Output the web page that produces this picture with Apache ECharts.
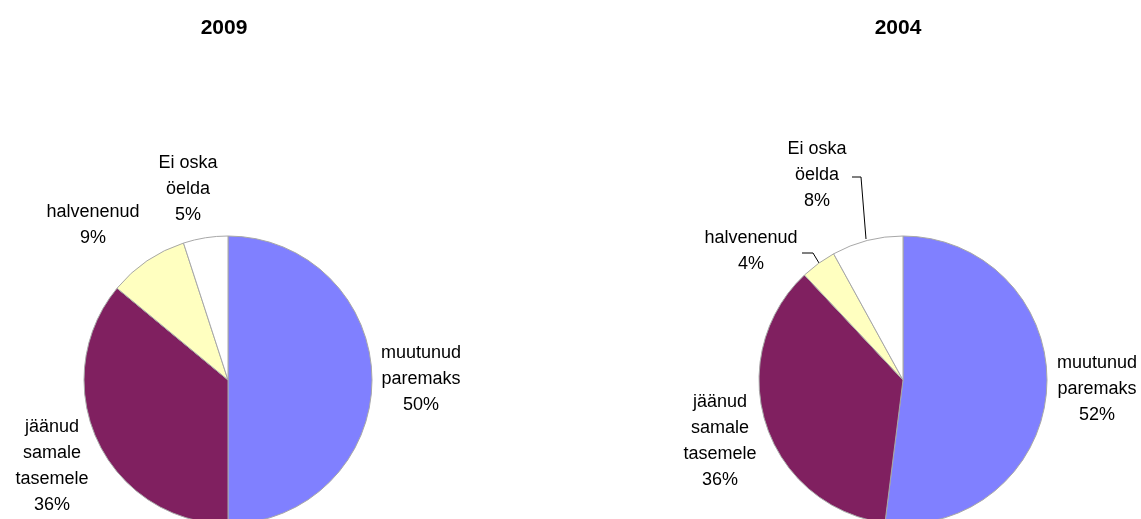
<!DOCTYPE html>
<html>
<head>
<meta charset="utf-8">
<script src="https://cdn.jsdelivr.net/npm/echarts@6/dist/echarts.min.js"></script>
<style>
  html, body { margin: 0; padding: 0; background: #fff; }
  #chart { width: 1141px; height: 519px; }
</style>
</head>
<body>
<div id="chart"></div>
<script>
// Answer categories (line breaks as printed in the slice labels)
const categories = ['muutunud\nparemaks', 'jäänud\nsamale\ntasemele', 'halvenenud', 'Ei oska\nöelda'];
// Shares in percent per survey year
const values2009 = [50, 36, 9, 5];
const values2004 = [52, 36, 4, 8];
const years = ['2009', '2004'];

const sliceColors = ['#8080FF', '#802060', '#FFFFC0', '#FFFFFF'];

// Label anchor points (centre of each text block) and optional leader lines
const labelPos = [
  [[421, 379], [52, 466], [93, 225], [188, 189]],
  [[1097, 389], [720, 441], [751, 251], [817, 175]]
];
const leaders = [
  [null, null, null, null],
  [null, null, [[819, 263], [813, 253], [802, 253]], [[866, 239], [861, 177], [852, 177]]]
];

const centers = [[228, 380], [903, 380]];
const radius = 144;
const FONT = 'Liberation Sans, Arial, sans-serif';

function buildSeries(idx, values) {
  return {
    type: 'pie',
    center: centers[idx],
    radius: radius,
    startAngle: 90,
    clockwise: true,
    animation: false,
    silent: true,
    itemStyle: { borderColor: '#A8A8A8', borderWidth: 1 },
    label: {
      show: true,
      position: 'outside',
      formatter: '{b}\n{c}%',
      fontFamily: FONT,
      fontSize: 18,
      lineHeight: 26,
      color: '#000',
      align: 'center',
      overflow: 'none'
    },
    labelLine: { show: true, lineStyle: { color: '#000', width: 1 } },
    labelLayout: function (p) {
      const pos = labelPos[idx][p.dataIndex];
      const out = { x: pos[0], y: pos[1], align: 'center', verticalAlign: 'middle', width: 200 };
      const lp = leaders[idx][p.dataIndex];
      if (lp) out.labelLinePoints = lp;
      return out;
    },
    data: categories.map((name, i) => ({
      name: name,
      value: values[i],
      itemStyle: { color: sliceColors[i] },
      labelLine: { show: !!leaders[idx][i] }
    }))
  };
}

const titleStyle = { fontFamily: FONT, fontWeight: 'bold', fontSize: 21, color: '#000' };

const chart = echarts.init(document.getElementById('chart'), null, { renderer: 'canvas' });
chart.setOption({
  backgroundColor: '#fff',
  title: [
    { text: years[0], left: 219, top: 13, textAlign: 'center', textStyle: titleStyle },
    { text: years[1], left: 893, top: 13, textAlign: 'center', textStyle: titleStyle }
  ],
  series: [buildSeries(0, values2009), buildSeries(1, values2004)]
});
</script>
</body>
</html>
